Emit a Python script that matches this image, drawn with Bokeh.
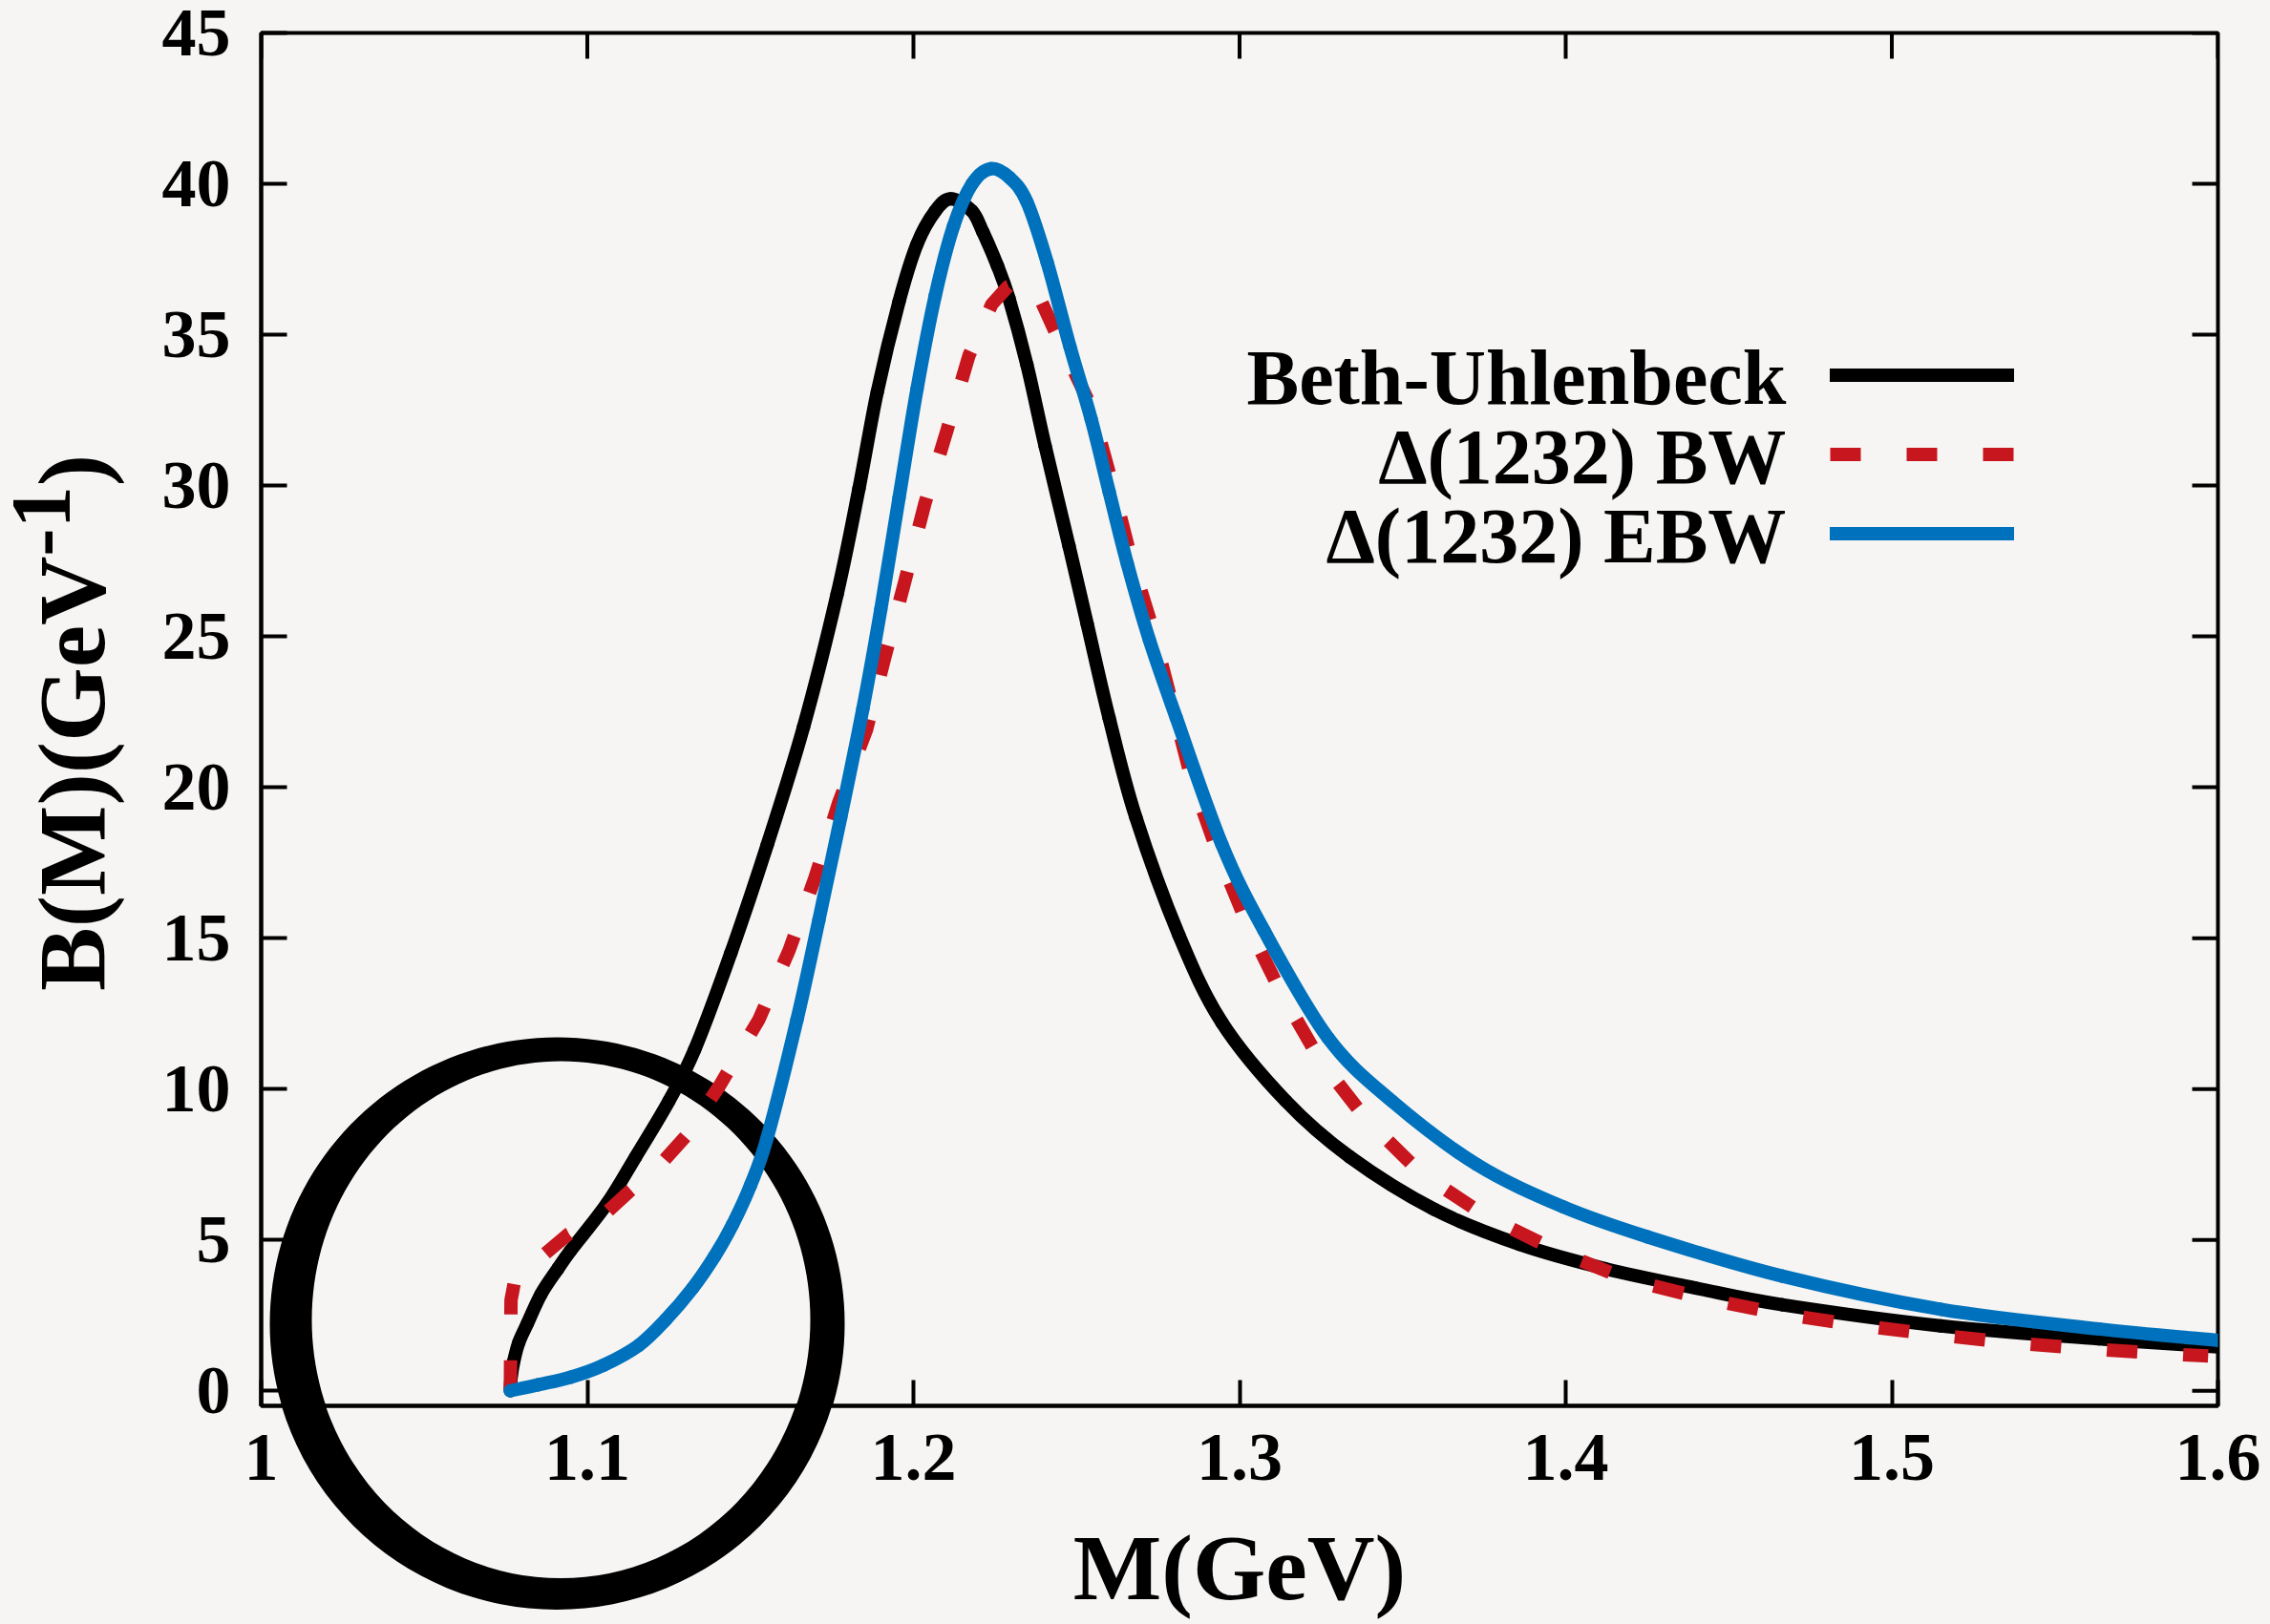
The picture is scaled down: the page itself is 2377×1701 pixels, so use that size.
import math
from bokeh.plotting import figure
from bokeh.layouts import row
from bokeh.models import (Range1d, FixedTicker, Label, PolyAnnotation, PrintfTickFormatter,
                          Legend, LegendItem, Div)
from bokeh.core.properties import value
from bokeh.embed import file_html
from bokeh.resources import INLINE

# ---------------- data ----------------
mass_bu = [1.0764, 1.0766, 1.0775, 1.0790, 1.0815, 1.0858, 1.0910, 1.0949,
           1.1060, 1.1148, 1.1250, 1.1329, 1.1440, 1.1552, 1.1663,
           1.1766, 1.1833, 1.1889, 1.1956, 1.2011, 1.2067, 1.2115, 1.2179, 1.2213,
           1.2257, 1.2293, 1.2348, 1.2404, 1.2477, 1.2533, 1.2600, 1.2682, 1.2814,
           1.2946, 1.3142, 1.3338, 1.3599, 1.3859, 1.4120, 1.4400, 1.4664, 1.5150,
           1.5634, 1.6000]
b_bu = [0.0, 0.4, 1.0, 1.6, 2.2, 3.2, 4.05, 4.65,
        6.2, 7.75, 9.6, 11.3, 14.5, 18.1, 22.0,
        26.4, 29.9, 33.1, 36.1, 38.0, 39.1, 39.5, 39.1, 38.4,
        37.3, 36.2, 34.0, 31.3, 28.0, 25.4, 22.3, 19.0, 15.1,
        12.2, 9.6, 7.75, 6.0, 4.85, 4.05, 3.4, 2.85, 2.15,
        1.72, 1.45]

mass_bw = [1.0764, 1.0766, 1.0780, 1.0855, 1.0943, 1.1048, 1.1133, 1.1224, 1.1303,
           1.1405, 1.1526, 1.1619, 1.1698, 1.1771, 1.1856, 1.1912, 1.1973, 1.2035,
           1.2102, 1.2170, 1.2240, 1.2290, 1.2335, 1.2380, 1.2430, 1.2545, 1.2606,
           1.2667, 1.2735, 1.2852, 1.2931, 1.3022, 1.3127, 1.3244, 1.3388, 1.3557,
           1.3754, 1.3970, 1.4187, 1.4420, 1.4652, 1.4890, 1.5124, 1.5355, 1.5590,
           1.5830, 1.5970]
b_bw = [0.0, 3.0, 3.8, 4.4, 5.2, 5.8, 6.65, 7.5, 8.45,
        10.1, 12.3, 14.6, 17.0, 19.5, 21.9, 24.3, 26.8, 29.4,
        31.8, 34.3, 36.0, 36.6, 36.8, 36.4, 35.2, 32.6, 30.2,
        27.6, 25.2, 20.3, 17.9, 15.5, 13.2, 11.0, 9.0, 7.2,
        5.8, 4.65, 3.7, 3.07, 2.56, 2.18, 1.87, 1.6, 1.4,
        1.23, 1.15]

mass_ebw = [1.0764, 1.0850, 1.0949, 1.1050, 1.1157, 1.1240, 1.1323, 1.1390, 1.1445,
            1.1500, 1.1552, 1.1643, 1.1710, 1.1777, 1.1845, 1.1900, 1.1956, 1.2011,
            1.2067, 1.2123, 1.2180, 1.2237, 1.2295, 1.2348, 1.2410, 1.2480, 1.2545,
            1.2600, 1.2656, 1.2723, 1.2806, 1.2946, 1.3075, 1.3271, 1.3467, 1.3727,
            1.3991, 1.4251, 1.4664, 1.5150, 1.5634, 1.6000]
b_ebw = [0.0, 0.2, 0.45, 0.85, 1.5, 2.35, 3.4, 4.45, 5.5,
         6.8, 8.4, 12.3, 15.6, 19.0, 22.6, 25.9, 29.6, 33.2,
         36.3, 38.6, 40.0, 40.5, 40.2, 39.4, 37.4, 34.6, 32.2,
         29.8, 27.4, 24.9, 22.3, 18.1, 15.25, 11.7, 9.6, 7.5,
         6.1, 5.1, 3.8, 2.7, 2.05, 1.67]

x_ticks = [1.0, 1.1, 1.2, 1.3, 1.4, 1.5, 1.6]
y_ticks = [0, 5, 10, 15, 20, 25, 30, 35, 40, 45]

series_labels = ["Beth-Uhlenbeck", "\u0394(1232) BW", "\u0394(1232) EBW"]
x_title = "M(GeV)"
y_title_main, y_title_sup, y_title_end = "B(M)(GeV", "-1", ")"

# ---------------- style ----------------
BG = "#f6f5f3"
FONT = "Liberation Serif"
BLACK = "#000000"
RED = "#c8161e"
BLUE = "#0072bd"
LW = 14
X0, X1, Y0, Y1 = 1.0, 1.6, -0.5, 45.0
FRAME_W, FRAME_H = 2049, 1438
PX_X = FRAME_W / (X1 - X0)
PX_Y = FRAME_H / (Y1 - Y0)
TICK = 27
TITLE_W = 150          # width of the column holding the vertical y title
FRAME_LEFT = 273       # frame left edge in page pixels
FRAME_TOP = 34
FRAME_BOTTOM = FRAME_TOP + FRAME_H

p = figure(width=2377 - TITLE_W, height=1701, output_backend="svg", toolbar_location=None,
           x_range=Range1d(X0, X1), y_range=Range1d(Y0, Y1),
           min_border_left=FRAME_LEFT - TITLE_W, min_border_right=55,
           min_border_top=FRAME_TOP, min_border_bottom=229)
p.background_fill_color = BG
p.border_fill_color = BG
p.grid.visible = False
p.outline_line_color = "black"
p.outline_line_width = 4


def style_axis(ax, ticks):
    ax.ticker = FixedTicker(ticks=ticks)
    ax.major_tick_in = TICK
    ax.major_tick_out = 0
    ax.minor_tick_in = 0
    ax.minor_tick_out = 0
    ax.major_tick_line_width = 4
    ax.major_tick_line_color = "black"
    ax.axis_line_width = 4
    ax.axis_line_color = "black"
    ax.formatter = PrintfTickFormatter(format="%g")
    ax.major_label_text_font = FONT
    ax.major_label_text_font_size = "72px"
    ax.major_label_text_font_style = "bold"
    ax.major_label_text_color = "black"


xa = p.xaxis[0]
ya = p.yaxis[0]
style_axis(xa, x_ticks)
style_axis(ya, y_ticks)
xa.major_label_standoff = 30
ya.major_label_standoff = 32

xa.axis_label = x_title
xa.axis_label_text_font = FONT
xa.axis_label_text_font_size = "98px"
xa.axis_label_text_font_style = "bold"
xa.axis_label_text_color = "black"
xa.axis_label_standoff = 35

# mirrored ticks on the top and right frame edges
p.segment(x0=x_ticks, x1=x_ticks, y0=[Y1] * len(x_ticks),
          y1=[Y1 - TICK / PX_Y] * len(x_ticks), line_color="black", line_width=4)
p.segment(x0=[X1] * len(y_ticks), x1=[X1 - TICK / PX_X] * len(y_ticks),
          y0=y_ticks, y1=y_ticks, line_color="black", line_width=4)

# ---------------- hand-drawn ink ring (decoration, filled annulus under the curves) ----
zero_px = FRAME_TOP + Y1 * PX_Y
outer = (583, 1386, 301, 300)     # centre x, centre y, radius x, radius y (page px)
inner = (587, 1382, 261, 271)
ring_x, ring_y = [], []
N = 180
for k in range(N + 1):
    t = 2 * math.pi * k / N
    ring_x.append(X0 + (outer[0] - FRAME_LEFT + outer[2] * math.cos(t)) / PX_X)
    ring_y.append((zero_px - outer[1] + outer[3] * math.sin(t)) / PX_Y)
for k in range(N, -1, -1):
    t = 2 * math.pi * k / N
    ring_x.append(X0 + (inner[0] - FRAME_LEFT + inner[2] * math.cos(t)) / PX_X)
    ring_y.append((zero_px - inner[1] + inner[3] * math.sin(t)) / PX_Y)
p.add_layout(PolyAnnotation(xs=ring_x, ys=ring_y, fill_color="black", fill_alpha=1.0,
                            line_alpha=0.0, level="underlay"))


# ---------------- curves (smooth Catmull-Rom rendering of the read points) -----
def smooth(xs, ys):
    n = len(xs)
    P = list(zip(xs, ys))
    out = {k: [] for k in ("x0", "y0", "x1", "y1", "cx0", "cy0", "cx1", "cy1")}
    for i in range(n - 1):
        pm = P[i - 1] if i > 0 else P[i]
        p0, p1 = P[i], P[i + 1]
        pp = P[i + 2] if i + 2 < n else P[i + 1]
        out["x0"].append(p0[0]); out["y0"].append(p0[1])
        out["x1"].append(p1[0]); out["y1"].append(p1[1])
        out["cx0"].append(p0[0] + (p1[0] - pm[0]) / 6.0)
        out["cy0"].append(p0[1] + (p1[1] - pm[1]) / 6.0)
        out["cx1"].append(p1[0] - (pp[0] - p0[0]) / 6.0)
        out["cy1"].append(p1[1] - (pp[1] - p0[1]) / 6.0)
    return out


r_bu = p.bezier(line_color=BLACK, line_width=LW, line_cap="round", **smooth(mass_bu, b_bu))
r_bw = p.line(mass_bw, b_bw, line_color=RED, line_width=LW, line_dash="32 48")
r_ebw = p.bezier(line_color=BLUE, line_width=LW, line_cap="round", **smooth(mass_ebw, b_ebw))

# ---------------- legend text (right aligned) ----------------
label_x = 1.4676
label_y = [33.58, 30.95, 28.32]
for txt, yy in zip(series_labels, label_y):
    p.add_layout(Label(x=label_x, y=yy, text=txt, text_align="right",
                       text_baseline="alphabetic", text_font=FONT,
                       text_font_size="82px", text_font_style="bold",
                       text_color="black"))

# ---------------- legend samples ----------------
legend = Legend(items=[LegendItem(label=value(""), renderers=[r_bu]),
                       LegendItem(label=value(""), renderers=[r_bw]),
                       LegendItem(label=value(""), renderers=[r_ebw])],
                location=(1643, 872), glyph_width=193, glyph_height=83,
                spacing=0, padding=0, margin=0, label_width=0, label_standoff=0,
                border_line_color=None, background_fill_alpha=0)
p.add_layout(legend)

# ---------------- y axis title (vertical, as HTML text) + ring part below the frame ----
strip_top = FRAME_BOTTOM - 2
strip_h = 1701 - strip_top
ring_path = (
    "M{ox},{oy} a{orx},{ory} 0 1,0 {odx},0 a{orx},{ory} 0 1,0 -{odx},0 Z "
    "M{ix},{iy} a{irx},{iry} 0 1,0 {idx},0 a{irx},{iry} 0 1,0 -{idx},0 Z"
).format(ox=outer[0] - outer[2], oy=outer[1], orx=outer[2], ory=outer[3], odx=2 * outer[2],
         ix=inner[0] - inner[2], iy=inner[1], irx=inner[2], iry=inner[3], idx=2 * inner[2])
overlay_html = (
    '<svg xmlns="http://www.w3.org/2000/svg" width="2377" height="%d" '
    'viewBox="0 %d 2377 %d" style="position:absolute; left:0; top:%dpx; z-index:20; '
    'pointer-events:none; overflow:hidden;">'
    '<path fill="#000" fill-rule="evenodd" d="%s"/></svg>'
    % (strip_h, strip_top, strip_h, strip_top, ring_path)
)
title_html = (
    '<div style="position:absolute; left:76px; top:757px; '
    'transform:translate(-50%,-50%) rotate(-90deg); white-space:nowrap; '
    "font-family:'Liberation Serif'; font-weight:bold; font-size:100px; "
    'line-height:1; color:#000;">'
    + y_title_main
    + '<span style="font-size:88%; vertical-align:0.42em; line-height:0;">'
    + y_title_sup + '</span>' + y_title_end + '</div>'
)
ytitle = Div(text=title_html + overlay_html, width=TITLE_W, height=1701, margin=0,
             styles={"overflow": "visible", "background-color": BG, "z-index": "20"})

page = row(ytitle, p, spacing=0)

html = file_html(page, INLINE)
html = html.replace("</head>", "<style>html,body{background:%s;}</style></head>" % BG, 1)
open("out.html", "w").write(html)
